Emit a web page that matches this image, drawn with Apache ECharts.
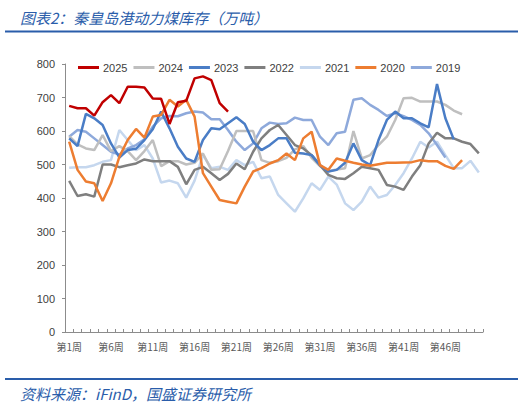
<!DOCTYPE html>
<html>
<head>
<meta charset="utf-8">
<script src="https://cdn.jsdelivr.net/npm/echarts@6/dist/echarts.min.js"></script>
<style>
html,body{margin:0;padding:0;background:#fff;}
#c{width:532px;height:404px;}
</style>
</head>
<body>
<div id="c"></div>
<script>
const weeks = [];
for (let i = 1; i <= 50; i++) weeks.push('第' + i + '周');
const yTicks = [0, 100, 200, 300, 400, 500, 600, 700, 800];

const y2025 = [675, 668, 668, 646, 686, 707, 683, 732, 732, 730, 697, 696, 621, 686, 690, 757, 763, 752, 683, 658];
const y2024 = [585, 560, 548, 543, 588, 540, 555, 540, 513, 540, 573, 495, 510, 510, 500, 505, 533, 484, 486, 540, 600, 600, 600, 513, 505, 510, 520, 545, 555, 520, 495, 480, 485, 489, 600, 518, 528, 558, 583, 633, 698, 699, 688, 688, 688, 678, 661, 650];
const y2023 = [578, 555, 651, 638, 618, 563, 521, 543, 547, 573, 605, 658, 608, 553, 518, 508, 573, 608, 605, 623, 641, 621, 568, 543, 558, 578, 578, 535, 533, 528, 498, 479, 484, 505, 563, 513, 498, 573, 633, 658, 638, 638, 623, 611, 740, 638, 575];
const y2022 = [451, 406, 411, 404, 500, 500, 492, 498, 503, 515, 510, 510, 510, 493, 441, 484, 493, 474, 454, 472, 503, 486, 538, 578, 603, 618, 588, 558, 548, 528, 498, 469, 459, 457, 474, 493, 489, 484, 439, 434, 424, 464, 498, 563, 595, 578, 578, 568, 561, 533];
const y2021 = [490, 492, 492, 498, 508, 513, 603, 573, 543, 558, 518, 446, 452, 444, 401, 452, 528, 489, 493, 484, 513, 498, 508, 459, 464, 409, 384, 359, 399, 444, 424, 464, 440, 384, 364, 389, 434, 401, 409, 439, 474, 518, 568, 551, 568, 528, 489, 489, 511, 476];
const y2020 = [568, 484, 449, 444, 391, 444, 523, 573, 606, 580, 643, 648, 693, 673, 693, 643, 474, 434, 394, 389, 384, 434, 479, 489, 503, 513, 533, 513, 578, 598, 498, 484, 518, 511, 505, 500, 496, 501, 505, 505, 506, 507, 513, 510, 510, 496, 487, 513];
const y2019 = [583, 603, 598, 578, 558, 538, 530, 548, 558, 575, 613, 638, 645, 644, 653, 658, 655, 635, 635, 603, 568, 543, 563, 608, 625, 621, 623, 640, 633, 633, 583, 558, 593, 598, 693, 698, 678, 663, 645, 653, 644, 633, 618, 593, 558, 521];

const seriesNames = ['2025', '2024', '2023', '2022', '2021', '2020', '2019'];
const seriesColors = ['#C00000', '#BFBFBF', '#4A7DC6', '#7F7F7F', '#C5D7EE', '#ED7D31', '#8EA9DB'];
const seriesData = [y2025, y2024, y2023, y2022, y2021, y2020, y2019];
const drawOrder = [4, 6, 1, 3, 2, 5, 0];

const FONT = "'Liberation Sans','Noto Sans CJK SC',sans-serif";
const CJK = "'Noto Sans CJK SC','Liberation Sans',sans-serif";
const BLUE = '#2A5DAA';

const chart = echarts.init(document.getElementById('c'), null, {renderer: 'svg'});
chart.setOption({
  backgroundColor: '#fff',
  animation: false,
  textStyle: {fontFamily: FONT},
  title: [{
    text: '图表2：秦皇岛港动力煤库存（万吨）',
    left: 15, top: 5,
    textStyle: {fontFamily: CJK, fontSize: 15, fontStyle: 'italic', fontWeight: 'normal', color: BLUE}
  }, {
    text: '资料来源：iFinD，国盛证券研究所',
    left: 15, top: 381,
    textStyle: {fontFamily: CJK, fontSize: 15, fontStyle: 'italic', fontWeight: 'normal', color: BLUE}
  }],
  graphic: [
    {type: 'line', shape: {x1: 5, y1: 31.5, x2: 518, y2: 31.5}, style: {stroke: BLUE, lineWidth: 2}},
    {type: 'line', shape: {x1: 5, y1: 379, x2: 518, y2: 379}, style: {stroke: BLUE, lineWidth: 2}}
  ],
  legend: {
    data: seriesNames,
    left: 73, top: 57,
    icon: 'rect', itemWidth: 21, itemHeight: 3, itemGap: 6,
    textStyle: {fontSize: 11, color: '#404040', fontFamily: FONT, padding: [0, 0, 0, -1]}
  },
  grid: {left: 65, right: 49, top: 64, bottom: 72, containLabel: false},
  xAxis: {
    type: 'category',
    data: weeks,
    boundaryGap: true,
    axisLine: {lineStyle: {color: '#8C8C8C', width: 1}},
    axisTick: {show: true, interval: 0, inside: true, length: 3, lineStyle: {color: '#8C8C8C'}},
    axisLabel: {interval: 4, fontSize: 10, color: '#595959', margin: 9, fontFamily: CJK},
    splitLine: {show: false}
  },
  yAxis: {
    type: 'value',
    min: yTicks[0], max: yTicks[yTicks.length - 1], interval: 100,
    axisLine: {show: true, lineStyle: {color: '#8C8C8C', width: 1}},
    axisTick: {show: true, length: 3, lineStyle: {color: '#8C8C8C'}},
    axisLabel: {fontSize: 11, color: '#404040', margin: 10},
    splitLine: {show: false}
  },
  series: drawOrder.map(i => ({
    name: seriesNames[i],
    type: 'line',
    data: seriesData[i],
    symbol: 'none',
    smooth: false,
    z: 2 + drawOrder.indexOf(i),
    itemStyle: {color: seriesColors[i]},
    lineStyle: {color: seriesColors[i], width: 2.5}
  }))
});
</script>
</body>
</html>
